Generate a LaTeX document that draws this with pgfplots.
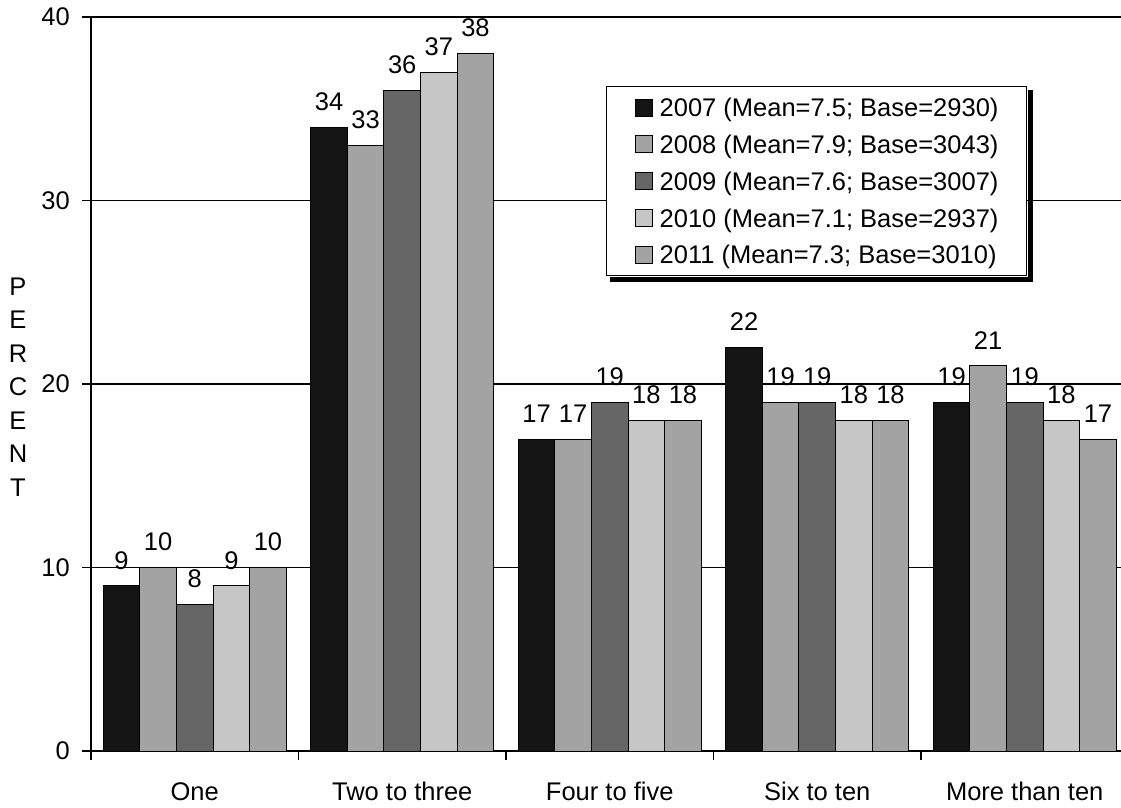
\documentclass[border=0pt]{standalone}
\usepackage{fontspec}
\setmainfont{Liberation Sans}
\usepackage{pgfplots}
\pgfplotsset{compat=1.18}

\definecolor{c2007}{HTML}{141414}
\definecolor{c2008}{HTML}{A3A3A3}
\definecolor{c2009}{HTML}{666666}
\definecolor{c2010}{HTML}{C6C6C6}
\definecolor{c2011}{HTML}{A3A3A3}

\newcommand{\chartfont}{\fontsize{25.5pt}{33.5pt}\selectfont}
\newcommand{\legendfont}{\fontsize{25.5pt}{0pt}\selectfont}

\begin{document}
\begin{tikzpicture}
\begin{axis}[
  name=ax,
  scale only axis,
  width=1030pt, height=734pt,
  xmin=-0.5, xmax=4.464,
  ymin=0, ymax=40,
  axis x line=bottom, axis y line=left,
  axis line style={-, line width=2pt, black},
  ybar=0pt, bar width=36.6pt,
  /pgf/number format/assume math mode=true,
  font=\chartfont,
  tick label style={font=\chartfont},
  tick align=outside,
  major tick length=9pt,
  tick style={black, line width=1.2pt},
  ytick={0,10,20,30,40},
  yticklabels={0,10,20,30,40},
  ymajorgrids,
  major grid style={black, line width=1.3pt},
  yticklabel style={anchor=east, inner sep=0pt, xshift=-12pt},
  xtick={-0.5,0.5,1.5,2.5,3.5},
  xticklabels={},
  extra x ticks={0,1,2,3,4},
  extra x tick labels={One,Two to three,Four to five,Six to ten,More than ten},
  extra x tick style={major tick length=0pt,
    tick label style={anchor=north, inner sep=0pt, yshift=-31pt}},
  ylabel={P\\E\\R\\C\\E\\N\\T},
  ylabel style={rotate=-90, align=center, font=\chartfont,
    at={(axis description cs:-0.0709,0.496)}, anchor=center},
  nodes near coords,
  every node near coord/.append style={anchor=south, inner sep=0pt,
    yshift=16pt, font=\chartfont, black},
  legend image code/.code={%
    \draw[#1, draw=black, line width=1pt] (0pt,-8.5pt) rectangle (17pt,8.5pt);},
  legend cell align=left,
  legend style={
    name=leg,
    at={(0.5,0.906)}, anchor=north west,
    draw=black, line width=1.3pt, fill=white,
    font=\legendfont,
    inner xsep=28pt, inner ysep=3pt,
    row sep=1pt, column sep=7pt,
    nodes={inner sep=0pt, text height=27.1pt, text depth=8.7pt},
  },
]
\addplot[fill=c2007, draw=black, line width=1pt] coordinates {(0,9) (1,34) (2,17) (3,22) (4,19)};
\addplot[fill=c2008, draw=black, line width=1pt] coordinates {(0,10) (1,33) (2,17) (3,19) (4,21)};
\addplot[fill=c2009, draw=black, line width=1pt] coordinates {(0,8) (1,36) (2,19) (3,19) (4,19)};
\addplot[fill=c2010, draw=black, line width=1pt] coordinates {(0,9) (1,37) (2,18) (3,18) (4,18)};
\addplot[fill=c2011, draw=black, line width=1pt] coordinates {(0,10) (1,38) (2,18) (3,18) (4,17)};
\legend{2007 (Mean=7.5; Base=2930)\hspace{7pt},2008 (Mean=7.9; Base=3043)\hspace{7pt},2009 (Mean=7.6; Base=3007)\hspace{7pt},2010 (Mean=7.1; Base=2937)\hspace{7pt},2011 (Mean=7.3; Base=3010)\hspace{7pt}}
\end{axis}
% black shadow along the legend's bottom and right edges
\fill[black] ([shift={(3.5pt,-0.65pt)}]leg.south west) rectangle ([shift={(5.65pt,-5.65pt)}]leg.south east);
\fill[black] ([shift={(0.65pt,-5.65pt)}]leg.south east) rectangle ([shift={(5.65pt,-4pt)}]leg.north east);
\pgfresetboundingbox
\path[use as bounding box] ([shift={(-91pt,-56pt)}]ax.south west) rectangle ([shift={(0pt,17pt)}]ax.north east);
\end{tikzpicture}
\end{document}
